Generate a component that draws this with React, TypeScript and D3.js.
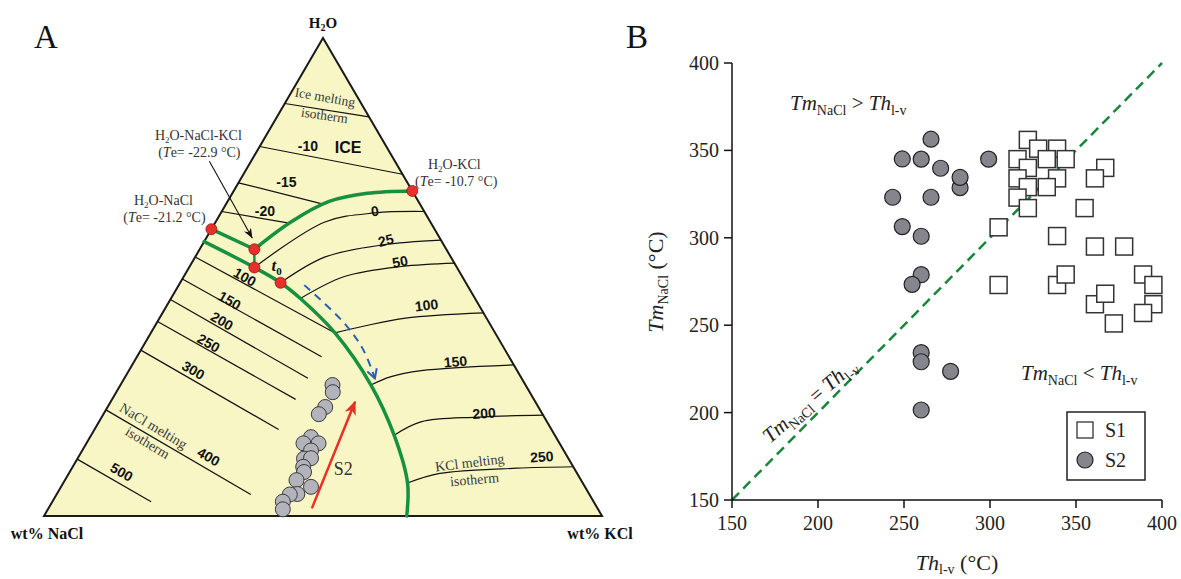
import React from "react";
import * as d3 from "d3";

type Comp = [number, number]; // [wt% NaCl, wt% KCl]

// ================= Panel A data (ternary compositions, wt%) =================
const iceIsoNames = ["ice", "-10", "-15", "-20"];
const iceIsoStart: Comp[] = [[13.7, 0], [22.7, 0], [30.3, 0], [36.3, 0]];
const iceIsoEnd: Comp[] = [[0, 16.5], [0, 28.5], [17.2, 17.6], [25.2, 13.6]];
const iceIsoLabelAt: Comp[] = [[0, 0], [14.0, 8.6], [21.6, 8.5], [28.5, 7.7]];

const kclIsoNames = ["0", "25", "50", "100", "150", "200", "250"];
const kclIsotherms: Comp[][] = [
  [[36.3, 11.7], [18.9, 19.6], [9.0, 27.6], [0, 36.3]],
  [[33.2, 18.0], [22.5, 23.3], [11.0, 32.3], [0, 42.3]],
  [[31.3, 23.2], [21.1, 28.8], [9.8, 38.0], [0, 47.1]],
  [[28.7, 33.0], [22.9, 37.4], [14.5, 44.1], [0, 57.5]],
  [[27.7, 44.9], [23.4, 47.5], [17.2, 52.4], [0, 68.4]],
  [[28.8, 54.3], [22.6, 57.7], [11.8, 67.5], [0, 78.9]],
  [[31.4, 61.7], [24.6, 66.5], [10.3, 79.7], [0, 89.7]],
];
const kclIsoLabelAt: Comp[] = [[8.8, 27.4], [9.9, 32.4], [9.6, 37.2], [9.4, 46.5], [10.1, 57.6], [10.4, 68.1], [4.6, 83.0]];
const kclIsoLabelRot = [-8, -14, -11, -7, -5, -4, -4];

const naclIsoNames = ["100", "150", "200", "250", "300", "400", "500"];
const naclIsoStart: Comp[] = [[45.8, 0], [50.4, 0], [54.7, 0], [59.3, 0], [65.3, 0], [77.8, 0], [88.1, 0]];
const naclIsoEnd: Comp[] = [[28.7, 33.0], [33.6, 33.1], [38.3, 32.9], [42.7, 32.9], [48.9, 33.0], [60.7, 34.8], [79.3, 17.7]];
const naclIsoLabelAt: Comp[] = [[39.0, 11.0], [44.2, 10.7], [47.7, 11.5], [52.4, 11.4], [58.0, 11.5], [64.3, 23.3], [81.5, 9.3]];

// cotectic / peritectic curves (green)
const iceSylviteCurve: Comp[] = [[34.4, 9.8], [25.0, 13.5], [16.0, 18.2], [8.3, 24.2], [0, 32.0]];
const iceHydrohaliteCurve: Comp[] = [[40.0, 0], [34.4, 9.8]];
const peritecticCurve: Comp[] = [[34.4, 9.8], [36.3, 11.7]];
const haliteSylviteCurve: Comp[] = [[42.6, 0], [36.3, 11.7], [33.2, 18.0], [31.3, 23.2], [28.7, 33.0], [27.7, 44.9], [28.8, 54.3], [31.4, 61.7], [35.0, 65.0]];

// invariant points (red)
const eutecticNaCl: Comp = [40.0, 0];
const eutecticTernary: Comp = [34.4, 9.8];
const peritecticPoint: Comp = [36.3, 11.7];
const t0Point: Comp = [33.2, 18.0];
const eutecticKCl: Comp = [0, 32.0];

// crystallisation path (blue) & S2 trend (red)
const bluePath: Comp[] = [[29.2, 22.5], [26.0, 33.7], [25.4, 39.9], [26.3, 44.9]];
const s2Trend: Comp[] = [[51.2, 47.2], [32.3, 43.8]];

// S2 inclusion compositions
const s2NaCl = [34.6, 35.3, 38.2, 40.1, 43.9, 45.9, 43.2, 45.3, 47.4, 46.1, 48.4, 48.8, 51.0, 49.1, 52.3, 53.7, 55.7, 56.5];
const s2KCl = [38.0, 38.8, 39.0, 38.6, 39.6, 38.9, 41.6, 41.0, 40.6, 41.8, 41.3, 42.0, 41.5, 44.8, 43.1, 41.8, 41.3, 42.1];

// ================= Panel B data =================
const axisTicks = [150, 200, 250, 300, 350, 400];
const s1Th = [322, 328, 339, 316, 333, 344, 322, 339, 316, 322, 333, 316, 322, 367, 361, 355, 305, 339, 361, 378, 305, 339, 344, 361, 367, 372, 389, 395, 395, 389];
const s1Tm = [356, 351, 351, 345, 345, 345, 340, 334, 334, 329, 329, 323, 317, 340, 334, 317, 306, 301, 295, 295, 273, 273, 279, 262, 268, 251, 279, 273, 262, 257];
const s2Th = [265.7, 249, 260, 271.3, 282.6, 282.6, 243.4, 265.7, 299.2, 249, 260, 260, 254.7, 260, 260, 277.1, 260];
const s2Tm = [356.4, 345.1, 345, 339.8, 328.7, 334.6, 323.2, 323.2, 345, 306.4, 300.9, 278.9, 273.4, 234.3, 229.1, 223.6, 201.5];

// ================= scales =================
const hY = d3.scaleLinear().domain([0, 100]).range([516, 38]); // H2O wt% -> y
const hX = d3.scaleLinear().domain([0, 100]).range([0, 279]); // H2O shift in x
const kX = d3.scaleLinear().domain([0, 100]).range([44, 602]); // KCl wt% -> x
const proj = (c: Comp): [number, number] => {
  const h = 100 - c[0] - c[1];
  return [kX(c[1]) + hX(h), hY(h)];
};
const curve = d3.line<Comp>().x((d) => proj(d)[0]).y((d) => proj(d)[1]).curve(d3.curveCatmullRom.alpha(0.5));
const straight = d3.line<Comp>().x((d) => proj(d)[0]).y((d) => proj(d)[1]);

const xB = d3.scaleLinear().domain([150, 400]).range([732, 1162]);
const yB = d3.scaleLinear().domain([150, 400]).range([500, 63]);

const SERIF = "'Liberation Serif', 'Times New Roman', serif";
const SANS = "'Liberation Sans', Arial, sans-serif";
const GREEN = "#17903f";
const FILL = "#f9f6c6";

function PanelA() {
  const apex = proj([0, 0]);
  const left = proj([100, 0]);
  const right = proj([0, 100]);
  const E = proj(eutecticTernary);
  const NaE = proj(eutecticNaCl);
  const KE = proj(eutecticKCl);
  const t0 = proj(t0Point);
  return (
    <g>
      <text x={46} y={48} fontFamily={SERIF} fontSize={33} textAnchor="middle" fill="#111">A</text>
      <polygon points={[apex, left, right].map((p) => p.join(",")).join(" ")} fill={FILL} stroke="#1a1a1a" strokeWidth={2} strokeLinejoin="miter" />

      {/* ice-field isotherms */}
      {iceIsoNames.map((n, i) => (
        <line key={"ice" + i} x1={proj(iceIsoStart[i])[0]} y1={proj(iceIsoStart[i])[1]} x2={proj(iceIsoEnd[i])[0]} y2={proj(iceIsoEnd[i])[1]} stroke="#111" strokeWidth={1.2} />
      ))}
      {iceIsoNames.map((n, i) => i === 0 ? null : (
        <text key={"icel" + i} x={proj(iceIsoLabelAt[i])[0]} y={proj(iceIsoLabelAt[i])[1] + 5} textAnchor="middle" fontFamily={SANS} fontWeight="bold" fontSize={14} fill="#111">{n}</text>
      ))}
      <text x={proj([5.9, 6.6])[0]} y={proj([5.9, 6.6])[1] + 4} textAnchor="middle" fontFamily={SERIF} fontSize={13.5} fill="#3a3a3a" transform={`rotate(10 ${proj([5.9, 6.6])[0]} ${proj([5.9, 6.6])[1]})`}>Ice melting</text>
      <text x={proj([7.9, 8.4])[0]} y={proj([7.9, 8.4])[1] + 4} textAnchor="middle" fontFamily={SERIF} fontSize={13.5} fill="#3a3a3a" transform={`rotate(8 ${proj([7.9, 8.4])[0]} ${proj([7.9, 8.4])[1]})`}>isotherm</text>
      <text x={proj([6.9, 15.9])[0]} y={proj([6.9, 15.9])[1] + 6} textAnchor="middle" fontFamily={SANS} fontWeight="bold" fontSize={16} fill="#111">ICE</text>

      {/* KCl-field isotherms */}
      {kclIsotherms.map((pts, i) => (
        <path key={"k" + i} d={curve(pts) || ""} fill="none" stroke="#111" strokeWidth={1.2} />
      ))}
      {kclIsoNames.map((n, i) => {
        const p = proj(kclIsoLabelAt[i]);
        return (
          <text key={"kl" + i} x={p[0]} y={p[1] + 5} textAnchor="middle" fontFamily={SANS} fontWeight="bold" fontSize={14} fill="#111" transform={`rotate(${kclIsoLabelRot[i]} ${p[0]} ${p[1]})`}>{n}</text>
        );
      })}
      {(() => {
        const p1 = proj([18.2, 70.8]);
        const p2 = proj([19.1, 73.4]);
        return (
          <g fontFamily={SERIF} fontSize={14} fill="#3a3a3a" textAnchor="middle">
            <text x={p1[0]} y={p1[1] + 4} transform={`rotate(-7 ${p1[0]} ${p1[1]})`}>KCl melting</text>
            <text x={p2[0]} y={p2[1] + 4} transform={`rotate(-5 ${p2[0]} ${p2[1]})`}>isotherm</text>
          </g>
        );
      })()}

      {/* NaCl-field isotherms */}
      {naclIsoNames.map((n, i) => (
        <line key={"n" + i} x1={proj(naclIsoStart[i])[0]} y1={proj(naclIsoStart[i])[1]} x2={proj(naclIsoEnd[i])[0]} y2={proj(naclIsoEnd[i])[1]} stroke="#111" strokeWidth={1.2} />
      ))}
      {naclIsoNames.map((n, i) => {
        const p = proj(naclIsoLabelAt[i]);
        return (
          <text key={"nl" + i} x={p[0]} y={p[1] + 5} textAnchor="middle" fontFamily={SANS} fontWeight="bold" fontSize={14} fill="#111" transform={`rotate(30 ${p[0]} ${p[1]})`}>{n}</text>
        );
      })}
      {(() => {
        const p1 = proj([71.1, 10.2]);
        const p2 = proj([73.9, 10.9]);
        return (
          <g fontFamily={SERIF} fontSize={14} fill="#3a3a3a" textAnchor="middle">
            <text x={p1[0]} y={p1[1] + 4} transform={`rotate(31 ${p1[0]} ${p1[1]})`}>NaCl melting</text>
            <text x={p2[0]} y={p2[1] + 4} transform={`rotate(31 ${p2[0]} ${p2[1]})`}>isotherm</text>
          </g>
        );
      })()}

      {/* green cotectics */}
      <g fill="none" stroke={GREEN} strokeWidth={3.5} strokeLinecap="round">
        <path d={curve(iceSylviteCurve) || ""} />
        <path d={straight(iceHydrohaliteCurve) || ""} />
        <path d={straight(peritecticCurve) || ""} strokeWidth={2.5} />
        <path d={curve(haliteSylviteCurve) || ""} />
      </g>

      {/* blue crystallisation path */}
      <path d={curve(bluePath) || ""} fill="none" stroke="#2a5db8" strokeWidth={2} strokeDasharray="8,6" markerEnd="url(#blueHead)" />

      {/* S2 inclusions */}
      {s2NaCl.map((n, i) => {
        const p = proj([n, s2KCl[i]]);
        return <circle key={"sa" + i} cx={p[0]} cy={p[1]} r={7.5} fill="#b3b3bb" stroke="#3a3a3a" strokeWidth={1} />;
      })}

      {/* S2 trend */}
      <line x1={proj(s2Trend[0])[0]} y1={proj(s2Trend[0])[1]} x2={proj(s2Trend[1])[0]} y2={proj(s2Trend[1])[1]} stroke="#ec2e25" strokeWidth={2.5} markerEnd="url(#redHead)" />
      <text x={proj([41.4, 48.7])[0]} y={proj([41.4, 48.7])[1] + 6} textAnchor="middle" fontFamily={SERIF} fontSize={18} fill="#333">S2</text>

      {/* pointer arrow to ternary eutectic */}
      <line x1={E[0] - 45} y1={E[1] - 88} x2={E[0] - 2} y2={E[1] - 11} stroke="#111" strokeWidth={1.1} markerEnd="url(#blackHead)" />

      {/* invariant points */}
      {[eutecticNaCl, eutecticTernary, peritecticPoint, t0Point, eutecticKCl].map((c, i) => {
        const p = proj(c);
        return <circle key={"inv" + i} cx={p[0]} cy={p[1]} r={5.5} fill="#e8302a" stroke="#9a1414" strokeWidth={0.8} />;
      })}

      {/* t0 label */}
      <text x={t0[0] - 4} y={t0[1] - 12} textAnchor="middle" fontFamily={SERIF} fontStyle="italic" fontWeight="bold" fontSize={17} fill="#111">
        t<tspan fontSize={11} dy={4} fontStyle="normal">0</tspan>
      </text>

      {/* annotations */}
      <g fontFamily={SERIF} fontSize={14} fill="#333" textAnchor="middle">
        <text x={E[0] - 56} y={E[1] - 109}>H<tspan fontSize={9} dy={3}>2</tspan><tspan dy={-3}>O-NaCl-KCl</tspan></text>
        <text x={E[0] - 55} y={E[1] - 92}>(<tspan fontStyle="italic">T</tspan>e= -22.9 °C)</text>
        <text x={NaE[0] - 48} y={NaE[1] - 24}>H<tspan fontSize={9} dy={3}>2</tspan><tspan dy={-3}>O-NaCl</tspan></text>
        <text x={NaE[0] - 47} y={NaE[1] - 7}>(<tspan fontStyle="italic">T</tspan>e= -21.2 °C)</text>
        <text x={KE[0] + 42} y={KE[1] - 22}>H<tspan fontSize={9} dy={3}>2</tspan><tspan dy={-3}>O-KCl</tspan></text>
        <text x={KE[0] + 44} y={KE[1] - 5}>(<tspan fontStyle="italic">T</tspan>e= -10.7 °C)</text>
      </g>

      {/* vertex labels */}
      <g fontFamily={SERIF} fontWeight="bold" fill="#111" textAnchor="middle">
        <text x={apex[0]} y={28} fontSize={15}>H<tspan fontSize={10} dy={3}>2</tspan><tspan dy={-3}>O</tspan></text>
        <text x={47} y={539} fontSize={16}>wt% NaCl</text>
        <text x={600} y={539} fontSize={16}>wt% KCl</text>
      </g>
    </g>
  );
}

function PanelB() {
  const x0 = xB(150), x1 = xB(400), y0 = yB(150), y1 = yB(400);
  const lx = 1067, ly = 412;
  return (
    <g>
      <text x={626} y={48} fontFamily={SERIF} fontSize={33} fill="#111">B</text>
      {/* 1:1 line */}
      <line x1={xB(150)} y1={yB(150)} x2={xB(400)} y2={yB(400)} stroke="#17873c" strokeWidth={2.5} strokeDasharray="10,6" />

      {/* axes */}
      <g stroke="#111" strokeWidth={1.5} fill="none">
        <line x1={x0} y1={y0} x2={x0} y2={y1} />
        <line x1={x0} y1={y0} x2={x1} y2={y0} />
        {axisTicks.map((t) => <line key={"yt" + t} x1={x0 - 8} x2={x0} y1={yB(t)} y2={yB(t)} />)}
        {axisTicks.map((t) => <line key={"xt" + t} x1={xB(t)} x2={xB(t)} y1={y0} y2={y0 + 8} />)}
      </g>
      <g fontFamily={SERIF} fontSize={20} fill="#222">
        {axisTicks.map((t) => <text key={"yl" + t} x={x0 - 13} y={yB(t) + 7} textAnchor="end">{t}</text>)}
        {axisTicks.map((t) => <text key={"xl" + t} x={xB(t)} y={y0 + 30} textAnchor="middle">{t}</text>)}
      </g>

      {/* axis titles */}
      <text x={957} y={570} textAnchor="middle" fontFamily={SERIF} fontSize={22} fill="#222">
        <tspan fontStyle="italic">Th</tspan><tspan fontSize={14} dy={4}>l-v</tspan><tspan dy={-4}> (°C)</tspan>
      </text>
      <text transform="translate(663,282) rotate(-90)" textAnchor="middle" fontFamily={SERIF} fontSize={22} fill="#222">
        <tspan fontStyle="italic">Tm</tspan><tspan fontSize={14} dy={5}>NaCl</tspan><tspan dy={-5}> (°C)</tspan>
      </text>

      {/* region annotations */}
      <text x={790} y={110} fontFamily={SERIF} fontSize={21} fill="#222">
        <tspan fontStyle="italic">Tm</tspan><tspan fontSize={14} dy={5}>NaCl</tspan><tspan dy={-5}> &gt; </tspan><tspan fontStyle="italic">Th</tspan><tspan fontSize={14} dy={5}>l-v</tspan>
      </text>
      <text x={1021} y={380} fontFamily={SERIF} fontSize={21} fill="#222">
        <tspan fontStyle="italic">Tm</tspan><tspan fontSize={14} dy={5}>NaCl</tspan><tspan dy={-5}> &lt; </tspan><tspan fontStyle="italic">Th</tspan><tspan fontSize={14} dy={5}>l-v</tspan>
      </text>
      <text transform="translate(770,444) rotate(-41)" fontFamily={SERIF} fontSize={21} fill="#222">
        <tspan fontStyle="italic">Tm</tspan><tspan fontSize={14} dy={5}>NaCl</tspan><tspan dy={-5}> = </tspan><tspan fontStyle="italic">Th</tspan><tspan fontSize={14} dy={5}>l-v</tspan>
      </text>

      {/* S1 squares */}
      {s1Th.map((t, i) => (
        <rect key={"s1" + i} x={xB(t) - 8.5} y={yB(s1Tm[i]) - 8.5} width={17} height={17} fill="#fff" stroke="#333" strokeWidth={1.5} />
      ))}
      {/* S2 circles */}
      {s2Th.map((t, i) => (
        <circle key={"s2" + i} cx={xB(t)} cy={yB(s2Tm[i])} r={8} fill="#85858d" stroke="#222" strokeWidth={1.2} />
      ))}

      {/* legend */}
      <rect x={lx} y={ly} width={78} height={68} fill="#fff" stroke="#222" strokeWidth={1.5} />
      <rect x={lx + 10} y={ly + 10} width={16} height={16} fill="#fff" stroke="#333" strokeWidth={1.3} />
      <circle cx={lx + 18} cy={ly + 48} r={8} fill="#85858d" stroke="#222" strokeWidth={1.2} />
      <text x={lx + 38} y={ly + 25} fontFamily={SERIF} fontSize={20} fill="#222">S1</text>
      <text x={lx + 38} y={ly + 55} fontFamily={SERIF} fontSize={20} fill="#222">S2</text>
    </g>
  );
}

export default function App() {
  return (
    <svg width={1181} height={579} viewBox="0 0 1181 579" style={{ position: "absolute", left: 0, top: 0, background: "#fff" }}>
      <defs>
        <marker id="blueHead" viewBox="0 0 12 12" refX={10} refY={6} markerWidth={12} markerHeight={12} markerUnits="userSpaceOnUse" orient="auto">
          <path d="M1,1 L10,6 L1,11" fill="none" stroke="#2a5db8" strokeWidth={2} />
        </marker>
        <marker id="redHead" viewBox="0 0 14 12" refX={13} refY={6} markerWidth={14} markerHeight={12} markerUnits="userSpaceOnUse" orient="auto">
          <path d="M0,0 L14,6 L0,12 L4,6 Z" fill="#ec2e25" />
        </marker>
        <marker id="blackHead" viewBox="0 0 10 8" refX={10} refY={4} markerWidth={10} markerHeight={8} markerUnits="userSpaceOnUse" orient="auto">
          <path d="M0,0 L10,4 L0,8 L3,4 Z" fill="#111" />
        </marker>
      </defs>
      <rect width={1181} height={579} fill="#fff" />
      <PanelA />
      <PanelB />
    </svg>
  );
}
